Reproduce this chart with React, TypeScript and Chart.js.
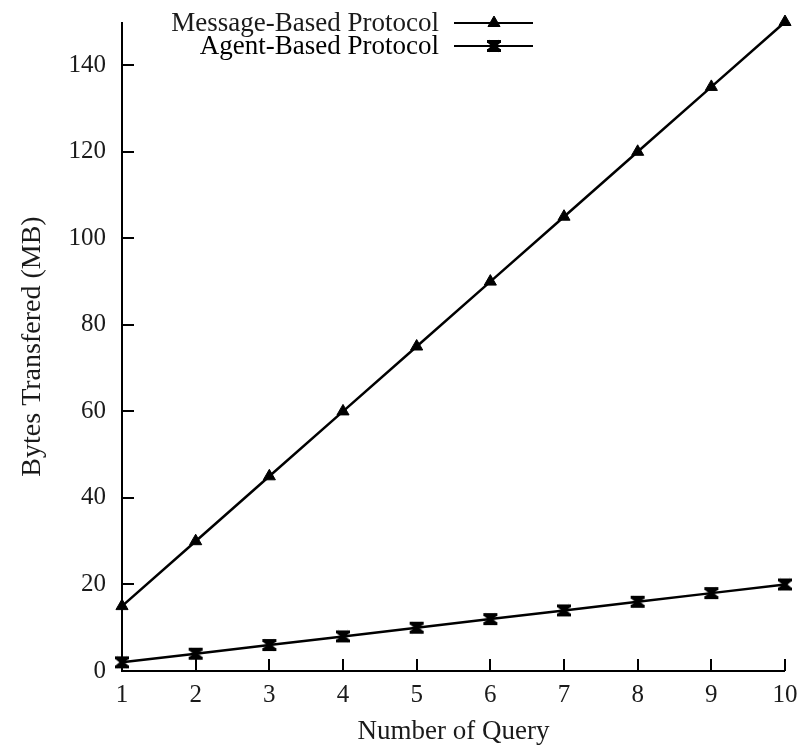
import React, { useEffect, useRef } from "react";
import { Chart, registerables } from "chart.js";

Chart.register(...registerables);

const queries = [1, 2, 3, 4, 5, 6, 7, 8, 9, 10];
const messageBased = [15, 30, 45, 60, 75, 90, 105, 120, 135, 150];
const agentBased = [2, 4, 6, 8, 10, 12, 14, 16, 18, 20];
const seriesNames = ["Message-Based Protocol", "Agent-Based Protocol"];
const yTicks = [0, 20, 40, 60, 80, 100, 120, 140];

const FONT = "'Liberation Serif', 'Times New Roman', serif";
const INK = "#1a1a1a";

function makeBowtie(): HTMLCanvasElement {
  const c = document.createElement("canvas");
  c.width = 16;
  c.height = 14;
  const g = c.getContext("2d")!;
  g.strokeStyle = "#000";
  g.fillStyle = "#000";
  g.lineWidth = 3.5;
  g.beginPath();
  g.moveTo(2, 2);
  g.lineTo(14, 12);
  g.moveTo(14, 2);
  g.lineTo(2, 12);
  g.stroke();
  g.fillRect(1, 1, 14, 3);
  g.fillRect(1, 10, 14, 3);
  g.fillRect(7, 1, 2, 12);
  return c;
}

const innerTicks = {
  id: "innerTicks",
  afterDatasetsDraw(chart: any) {
    const { ctx, chartArea, scales } = chart;
    ctx.save();
    ctx.strokeStyle = "#000";
    ctx.lineWidth = 2;
    ctx.beginPath();
    ctx.moveTo(chartArea.left, chartArea.top);
    ctx.lineTo(chartArea.left, chartArea.bottom);
    ctx.lineTo(chartArea.right, chartArea.bottom);
    ctx.stroke();
    ctx.beginPath();
    for (const v of yTicks) {
      const y = Math.round(scales.y.getPixelForValue(v));
      ctx.moveTo(chartArea.left, y);
      ctx.lineTo(chartArea.left + 12, y);
    }
    for (const q of queries) {
      const x = Math.round(scales.x.getPixelForValue(q));
      ctx.moveTo(x, chartArea.bottom);
      ctx.lineTo(x, chartArea.bottom - 12);
    }
    ctx.stroke();
    ctx.restore();
  },
};

const sideLegend = {
  id: "sideLegend",
  afterDraw(chart: any) {
    const { ctx } = chart;
    ctx.save();
    ctx.font = `27px ${FONT}`;
    ctx.fillStyle = INK;
    ctx.textAlign = "right";
    ctx.textBaseline = "middle";
    const rows = [23, 46];
    chart.data.datasets.forEach((ds: any, i: number) => {
      const y = rows[i];
      ctx.fillText(ds.label, 439, y + 1);
      ctx.strokeStyle = "#000";
      ctx.lineWidth = 2;
      ctx.beginPath();
      ctx.moveTo(454, y);
      ctx.lineTo(533, y);
      ctx.stroke();
      const meta = chart.getDatasetMeta(i);
      const el = meta.data[0];
      if (el) {
        const saveX = el.x;
        const saveY = el.y;
        el.x = 494;
        el.y = y;
        el.draw(ctx, undefined);
        el.x = saveX;
        el.y = saveY;
      }
    });
    ctx.restore();
  },
};

export default function App() {
  const ref = useRef<HTMLCanvasElement>(null);
  useEffect(() => {
    if (!ref.current) return;
    const bowtie = makeBowtie();
    const chart = new Chart(ref.current, {
      type: "line",
      data: {
        labels: queries,
        datasets: [
          {
            label: seriesNames[0],
            data: messageBased,
            borderColor: "#000",
            backgroundColor: "#000",
            borderWidth: 2.5,
            pointStyle: "triangle",
            pointRadius: 7,
            pointBorderWidth: 1,
            clip: false as any,
          },
          {
            label: seriesNames[1],
            data: agentBased,
            borderColor: "#000",
            backgroundColor: "#000",
            borderWidth: 2.5,
            pointStyle: bowtie as any,
            pointRadius: 7,
            clip: false as any,
          },
        ],
      },
      plugins: [innerTicks, sideLegend],
      options: {
        responsive: false,
        animation: false,
        layout: { padding: { left: 8, top: 22, right: 22, bottom: 0 } },
        plugins: {
          legend: { display: false },
          tooltip: { enabled: false },
        },
        scales: {
          x: {
            type: "linear",
            min: 1,
            max: 10,
            afterBuildTicks: (s: any) => {
              s.ticks = queries.map((v) => ({ value: v }));
            },
            afterFit: (s: any) => {
              s.height = 74;
              s.paddingLeft = 0;
              s.paddingRight = 0;
            },
            grid: { display: false, drawTicks: false },
            border: { display: false },
            ticks: {
              padding: 9,
              color: INK,
              font: { family: FONT, size: 25 },
            },
            title: {
              display: true,
              text: "Number of Query",
              color: INK,
              font: { family: FONT, size: 27, lineHeight: 1 },
              padding: { top: 0, bottom: 0 },
            },
          },
          y: {
            type: "linear",
            min: 0,
            max: 150,
            afterBuildTicks: (s: any) => {
              s.ticks = yTicks.map((v) => ({ value: v }));
            },
            afterFit: (s: any) => {
              s.width = 114;
              s.paddingTop = 0;
              s.paddingBottom = 0;
            },
            grid: { display: false, drawTicks: false },
            border: { display: false },
            ticks: {
              padding: 16,
              color: INK,
              font: { family: FONT, size: 25 },
            },
            title: {
              display: true,
              text: "Bytes Transfered (MB)",
              color: INK,
              font: { family: FONT, size: 28, lineHeight: 1 },
              padding: { top: 11, bottom: 0 },
            },
          },
        },
      },
    });
    return () => chart.destroy();
  }, []);
  return (
    <div style={{ position: "fixed", left: 0, top: 0, width: 807, height: 745, background: "#fff" }}>
      <canvas ref={ref} width={807} height={745} style={{ width: 807, height: 745 }} />
    </div>
  );
}
